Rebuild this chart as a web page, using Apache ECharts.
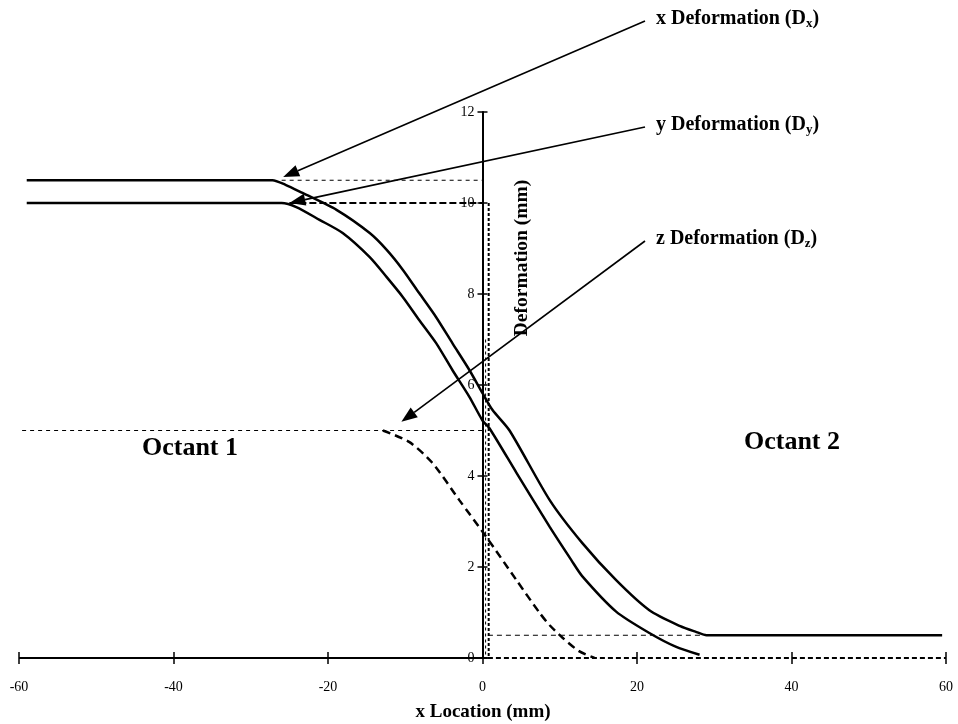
<!DOCTYPE html>
<html><head><meta charset="utf-8">
<script src="https://cdn.jsdelivr.net/npm/echarts@6/dist/echarts.min.js"></script>
<style>html,body{margin:0;padding:0;background:#fff}#c{width:958px;height:724px}</style>
</head><body><div id="c"></div>
<script>
// x ticks and y ticks
var xMin = -60, xMax = 60, xStep = 20;
var yMin = 0, yMax = 12, yStep = 2;

// x deformation (Dx) curve
var dxData = [[-59,10.5],[-27.2,10.5],[-25.5,10.4],[-23.3,10.22],[-18.9,9.85],[-14.6,9.34],[-12.4,8.97],[-10.3,8.53],[-8.2,8.02],[-6.0,7.49],[-3.9,6.92],[-1.7,6.33],[0,5.82],[1.3,5.45],[3.5,5.0],[8.7,3.47],[12.9,2.53],[17.3,1.71],[21.6,1.05],[25.6,0.7],[27.7,0.57],[29,0.5],[59.5,0.5]];
// y deformation (Dy) curve
var dyData = [[-59,10],[-26,10],[-24.1,9.91],[-21.1,9.63],[-18.1,9.34],[-14.6,8.81],[-12.4,8.37],[-10.3,7.93],[-8.2,7.43],[-6.0,6.92],[-3.9,6.33],[-1.7,5.74],[0,5.22],[0.9,5.05],[4.4,4.07],[8.7,2.88],[11.5,2.15],[12.9,1.8],[17.3,1.02],[21.6,0.55],[25,0.25],[28.1,0.07]];
// z deformation (Dz) curve
var dzData = [[-12.9,5.0],[-9.5,4.75],[-6.5,4.29],[-3.0,3.47],[0.5,2.66],[4.4,1.71],[7.4,0.99],[8.7,0.72],[10.4,0.44],[12.5,0.15],[14.5,0]];
// reference dashed lines
var refX = [[-26,10.5],[0,10.5]];
var refY = [[-25,10],[0,10]];
var refZ = [[-59.6,5],[0,5]];
var refHalf = [[0.7,0.5],[28.5,0.5]];
var refZero = [[0.7,0],[60,0]];
var refVert = [[0.8,10],[0.8,0]];
var refVert2 = [[0.4,7],[0.4,0]];
var baseLeft = [[-60,0],[0.7,0]];
// annotation tips (data coords)
var tipX = [-25.8,10.57], tipY = [-25.0,10.0], tipZ = [-10.5,5.19];

var FONT = '"Liberation Serif","Times New Roman",serif';
var chart = echarts.init(document.getElementById('c'));
function ref(data, w, dash){
  return {type:'line', data:data, symbol:'none', silent:true, z:1,
    lineStyle:{color:'#000', width:w, type:dash}};
}
var GL = 19, GR = 12;
var yOff = -((958 - GL - GR) / 2);   // place y axis at x = 0
var axLabel = {fontFamily:FONT, fontSize:14, color:'#000'};
function curve(name, data, dash){
  return {type:'line', name:name, data:data, symbol:'none', z:3, smooth:0.25,
    lineStyle:{color:'#000', width:2.5, type:dash || 'solid'}};
}
chart.setOption({
  animation:false,
  grid:{left:GL, right:GR, top:112, bottom:66, containLabel:false},
  xAxis:[
    {type:'value', min:xMin, max:xMax, interval:xStep, position:'bottom',
     axisLine:{show:false, onZero:false},
     axisTick:{show:true, inside:false, length:6, lineStyle:{color:'#000', width:1.5}},
     axisLabel:Object.assign({margin:22}, axLabel), splitLine:{show:false}},
    {type:'value', min:xMin, max:xMax, interval:xStep, position:'bottom',
     axisLine:{show:false, onZero:false}, axisTick:{show:true, inside:true, length:6, lineStyle:{color:'#000', width:1.5}},
     axisLabel:{show:false}, splitLine:{show:false}}
  ],
  yAxis:[
    {type:'value', min:yMin, max:yMax, interval:yStep, position:'left', offset:yOff,
     axisLine:{show:true, onZero:false, lineStyle:{color:'#000', width:2}},
     axisTick:{show:true, inside:false, length:5, lineStyle:{color:'#000', width:1.5}},
     axisLabel:Object.assign({margin:8}, axLabel), splitLine:{show:false}},
    {type:'value', min:yMin, max:yMax, interval:yStep, position:'left', offset:yOff,
     axisLine:{show:false, onZero:false},
     axisTick:{show:true, inside:true, length:5, lineStyle:{color:'#000', width:1.5}},
     axisLabel:{show:false}, splitLine:{show:false}}
  ],
  series:[
    ref(baseLeft, 2, 'solid'),
    ref(refX, 1, [4,4]),
    ref(refY, 2, [7,3]),
    ref(refZ, 1, [4,4]),
    ref(refHalf, 1, [5,4]),
    ref(refZero, 2, [5,3]),
    ref(refVert, 2, [3,2]),
    ref(refVert2, 1, [3,3]),
    curve('Dx', dxData),
    curve('Dy', dyData),
    curve('Dz', dzData, [8,5])
  ]
});

function arrow(from, tipData){
  var t = chart.convertToPixel({xAxisIndex:0, yAxisIndex:0}, tipData);
  var dx = from[0]-t[0], dy = from[1]-t[1], L = Math.sqrt(dx*dx+dy*dy);
  var ux = dx/L, uy = dy/L, hl = 16, hw = 6;
  var bx = t[0]+ux*hl, by = t[1]+uy*hl;
  return [
    {type:'line', shape:{x1:from[0], y1:from[1], x2:bx, y2:by}, style:{stroke:'#000', lineWidth:1.6}, z:10},
    {type:'polygon', shape:{points:[[t[0],t[1]],[bx-uy*hw, by+ux*hw],[bx+uy*hw, by-ux*hw]]}, style:{fill:'#000'}, z:10}
  ];
}
var rich = {sub:{fontFamily:FONT, fontSize:13, fontWeight:'bold', fill:'#000', padding:[9,0,0,0]}};
function label(x, y, s){
  return {type:'text', left:x, top:y, z:10, style:{text:s, fontFamily:FONT, fontSize:20, fontWeight:'bold', fill:'#000', rich:rich}};
}
var g = [];
g = g.concat(arrow([645,21], tipX), arrow([645,127], tipY), arrow([645,241], tipZ));
g.push(label(656, 9, 'x Deformation (D{sub|x})'));
g.push(label(656, 115, 'y Deformation (D{sub|y})'));
g.push(label(656, 229, 'z Deformation (D{sub|z})'));
g.push({type:'text', x:522, y:258, rotation:Math.PI/2, z:10,
  style:{text:'Deformation (mm)', fontFamily:FONT, fontSize:19.5, fontWeight:'bold', fill:'#000', align:'center', verticalAlign:'middle'}});
g.push({type:'text', x:483, y:712, z:10,
  style:{text:'x Location (mm)', fontFamily:FONT, fontSize:19, fontWeight:'bold', fill:'#000', align:'center', verticalAlign:'middle'}});
g.push({type:'text', x:190, y:448, z:10,
  style:{text:'Octant 1', fontFamily:FONT, fontSize:26, fontWeight:'bold', fill:'#000', align:'center', verticalAlign:'middle'}});
g.push({type:'text', x:792, y:442, z:10,
  style:{text:'Octant 2', fontFamily:FONT, fontSize:26, fontWeight:'bold', fill:'#000', align:'center', verticalAlign:'middle'}});
chart.setOption({graphic:g});
</script></body></html>
